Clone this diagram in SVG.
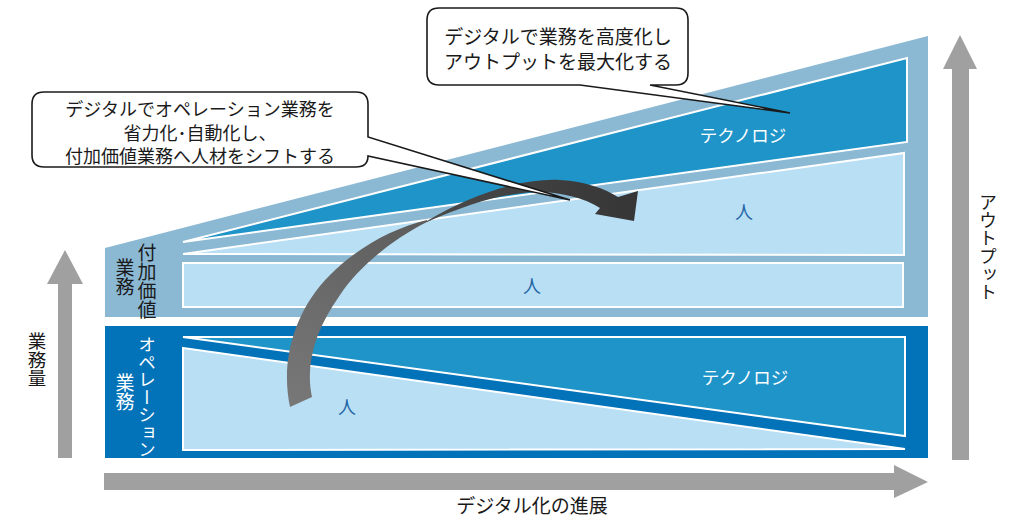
<svg xmlns="http://www.w3.org/2000/svg" width="1030" height="522" viewBox="0 0 1030 522">
<style>
text{font-family:"Noto Sans CJK JP","Noto Sans",sans-serif;}
.lbl{font-size:19px;fill:#1a1a1a;}
.vt{writing-mode:vertical-rl;}
.wt{fill:#ffffff;}
.hito{font-size:18px;fill:#2466a5;text-anchor:middle;}
.tech{font-size:17.5px;fill:#ffffff;text-anchor:middle;}
.axis{fill:#a0a0a0;}
.wl{stroke:#ffffff;stroke-width:2;}
.call{fill:#ffffff;stroke:#1a1a1a;stroke-width:1.6;}
.ct{font-size:18px;fill:#1a1a1a;text-anchor:middle;}
</style>
<defs>
<linearGradient id="gLow" gradientUnits="userSpaceOnUse" x1="300" y1="405" x2="427" y2="220">
<stop offset="0" stop-color="#777777"/>
<stop offset="1" stop-color="#5c5c5c"/>
</linearGradient>
<linearGradient id="gUp" gradientUnits="userSpaceOnUse" x1="427" y1="220" x2="636" y2="205">
<stop offset="0" stop-color="#4a4a4a"/>
<stop offset="1" stop-color="#363636"/>
</linearGradient>
</defs>
<rect width="1030" height="522" fill="#ffffff"/>

<g id="axes">
<g id="axis-left">
<polygon class="axis" points="58,458 72,458 72,284 83,284 65,250 47,284 58,284"/>
<text class="lbl vt" x="37" y="332" style="font-size:18.5px">業務量</text>
</g>
<g id="axis-right">
<polygon class="axis" points="952,460 969,460 969,69 977,69 960,35 943,69 952,69"/>
<text class="lbl vt" x="988" y="193" style="font-size:18px">アウトプット</text>
</g>
<g id="axis-bottom">
<polygon class="axis" points="104,473 894,473 894,465 928,482 894,498 894,490 104,490"/>
<text class="lbl" x="532" y="513" text-anchor="middle">デジタル化の進展</text>
</g>
</g>

<g id="value-work">
<polygon points="105,248 928,36 928,317 105,317" fill="#8bb9d4"/>
<polygon class="wl" points="183,242 907,58 907,142" fill="#1e94c8"/>
<polygon class="wl" points="183,254 904,153 904,255" fill="#b9dff5"/>
<rect class="wl" x="183" y="263" width="720" height="44" fill="#b9dff5"/>
<text class="tech" x="743" y="142">テクノロジ</text>
<text class="hito" x="744" y="219">人</text>
<text class="hito" x="532" y="293">人</text>
<text class="lbl vt" x="147" y="243">付加価値</text>
<text class="lbl vt" x="125" y="258.5">業務</text>
</g>

<g id="operation-work">
<rect x="105" y="326" width="823" height="132" fill="#0272b9"/>
<polygon class="wl" points="183,337 905,337 905,436" fill="#1e94c8"/>
<polygon class="wl" points="183,348 905,449 183,450" fill="#b9dff5"/>
<text class="tech" x="745" y="384">テクノロジ</text>
<text class="hito" x="347" y="414">人</text>
<text class="lbl vt wt" x="147" y="336" style="font-size:17.5px">オペレーション</text>
<text class="lbl vt wt" x="125" y="373.5">業務</text>
</g>

<g id="connectors">
<path id="shift-arrow-low" d="M290,407 C280,360 295,310 330,275 C360,245 395,228 427,220 L427,222 C395,238 360,265 340,295 C315,330 305,365 312,397 Z" fill="url(#gLow)"/>
<path id="shift-arrow-up" d="M427,221 C470,195 520,178 560,180 C585,181 605,189 618,197 L638,191 L634,221 L595,214 L600,208 C585,198 560,192 537,192 C505,193 470,203 427,222 Z" fill="url(#gUp)"/>
</g>

<g id="callout-left">
<path class="call" d="M44,92 H356 Q368,92 368,104 V137 L570,200 L368,156 Q368,167 356,167 H44 Q32,167 32,155 V104 Q32,92 44,92 Z"/>
<text class="ct" x="200" y="115.5">デジタルでオペレーション業務を</text>
<text class="ct" x="200" y="139.5">省力化･自動化し、</text>
<text class="ct" x="200" y="163">付加価値業務へ人材をシフトする</text>
</g>

<g id="callout-right">
<path class="call" d="M439,8 H676 Q688,8 688,20 V73 Q688,85 676,85 H650 L790,113 L580,85 H439 Q427,85 427,73 V20 Q427,8 439,8 Z"/>
<text class="ct" x="558" y="43.5" style="font-size:19px">デジタルで業務を高度化し</text>
<text class="ct" x="558" y="68.5" style="font-size:19px">アウトプットを最大化する</text>
</g>
</svg>
